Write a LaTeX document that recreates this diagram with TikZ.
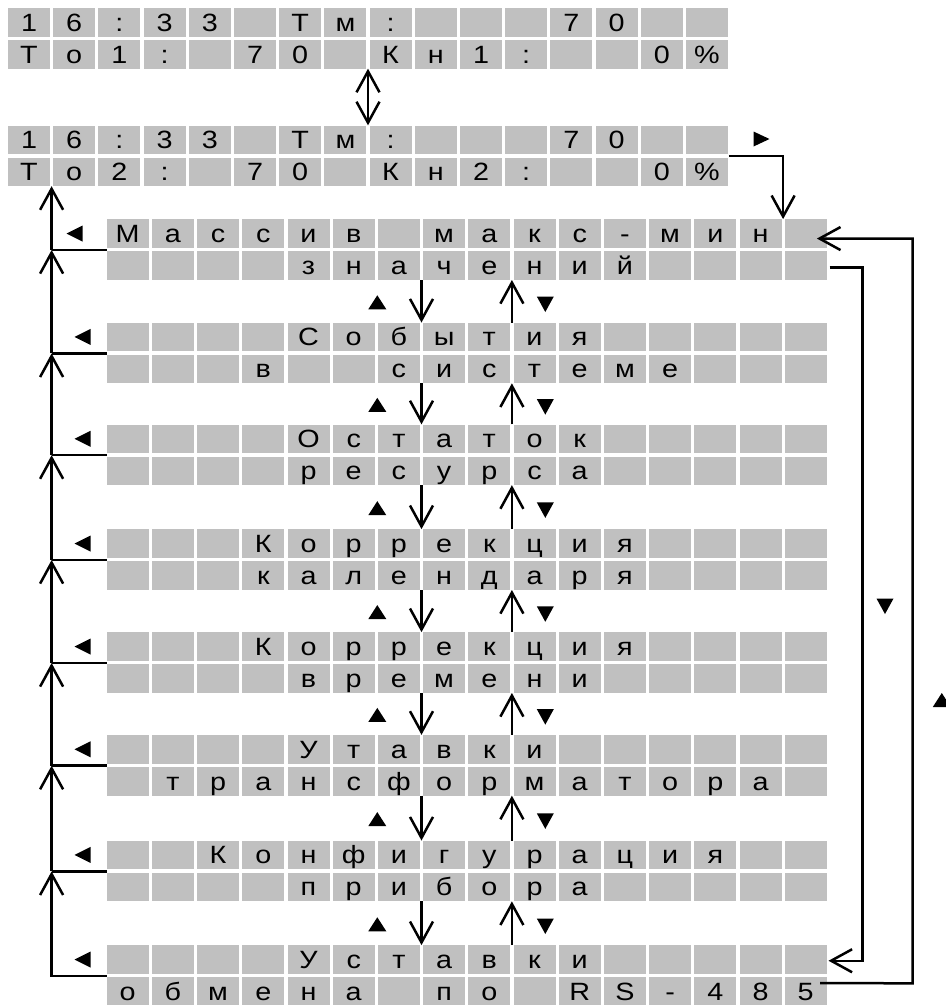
\documentclass[tikz,border=0pt]{standalone}
\usepackage{fontspec}
\setmainfont{Liberation Sans}
\newfontfamily\lcdfont[FakeStretch=1.15]{Liberation Sans}
\usetikzlibrary{arrows.meta,calc}
\definecolor{lcd}{HTML}{C0C0C0}
\tikzset{
  cellbox/.style={fill=lcd,minimum width=42pt,minimum height=28.5pt,inner sep=0pt,
    text height=17.5pt,text depth=0pt,font=\lcdfont\fontsize{25}{25}\selectfont},
  conn/.style={line width=2.5pt},
  tip/.style={-{Straight Barb[length=21pt,width=23pt]}},
  tips/.style={{Straight Barb[length=21pt,width=23pt]}-{Straight Barb[length=21pt,width=23pt]}},
  triup/.pic={\fill (-9,7) -- (9,7) -- (0,-7) -- cycle;},
  tridown/.pic={\fill (-8.5,-7.75) -- (8.5,-7.75) -- (0,7.75) -- cycle;},
  trileft/.pic={\fill (8,-8) -- (8,8) -- (-8,0) -- cycle;},
  triright/.pic={\fill (-8,-7.5) -- (-8,7.5) -- (8,0) -- cycle;},
}
\newcommand\lcdrow[4]{\foreach \ch [count=\i from 0] in {#4}{\node[cellbox] (#1-\i) at ({#2+\i*45.2+21},{#3+14.25}) {\ch};}}
\newcommand\menulink[2]{%
  \coordinate (#1dn) at ($(#1b-6.south east)!.5!(#1b-7.south west)$);
  \coordinate (#1dnE) at (#1dn |- #2a-0.north);
  \coordinate (#1up) at ($(#1b-8.south east)!.5!(#1b-9.south west)$);
  \coordinate (#1upS) at (#1up |- #2a-0.north);
  \draw[conn,tip] (#1dn) -- (#1dnE);
  \draw[conn,tip] (#1upS) -- (#1up);
  \pic at ($(#1dn)!.5!(#1dnE)+(-44.2,1)$) {triup};
  \pic at ($(#1up)!.5!(#1upS)+(33.4,3)$) {tridown};
}
\begin{document}
\begin{tikzpicture}[x=1pt,y=-1pt]
\useasboundingbox (0,0) rectangle (946,1005);
% top displays
\lcdrow{Aa}{8}{8}{1,6,:,3,3,{},Т,м,:,{},{},{},7,0,{},{}}
\lcdrow{Ab}{8}{40}{Т,о,1,:,{},7,0,{},К,н,1,:,{},{},0,\%}
\lcdrow{Ba}{8}{125.5}{1,6,:,3,3,{},Т,м,:,{},{},{},7,0,{},{}}
\lcdrow{Bb}{8}{157.5}{Т,о,2,:,{},7,0,{},К,н,2,:,{},{},0,\%}
% menus
\lcdrow{M1a}{106.7}{219.3}{М,а,с,с,и,в,{},м,а,к,с,-,м,и,н,{}}
\lcdrow{M1b}{106.7}{251.3}{{},{},{},{},з,н,а,ч,е,н,и,й,{},{},{},{}}
\lcdrow{M2a}{106.7}{322.7}{{},{},{},{},С,о,б,ы,т,и,я,{},{},{},{},{}}
\lcdrow{M2b}{106.7}{354.7}{{},{},{},в,{},{},с,и,с,т,е,м,е,{},{},{}}
\lcdrow{M3a}{106.7}{424.5}{{},{},{},{},О,с,т,а,т,о,к,{},{},{},{},{}}
\lcdrow{M3b}{106.7}{456.5}{{},{},{},{},р,е,с,у,р,с,а,{},{},{},{},{}}
\lcdrow{M4a}{106.7}{529.3}{{},{},{},К,о,р,р,е,к,ц,и,я,{},{},{},{}}
\lcdrow{M4b}{106.7}{561.3}{{},{},{},к,а,л,е,н,д,а,р,я,{},{},{},{}}
\lcdrow{M5a}{106.7}{632.3}{{},{},{},К,о,р,р,е,к,ц,и,я,{},{},{},{}}
\lcdrow{M5b}{106.7}{664.3}{{},{},{},{},в,р,е,м,е,н,и,{},{},{},{},{}}
\lcdrow{M6a}{106.7}{735}{{},{},{},{},У,т,а,в,к,и,{},{},{},{},{},{}}
\lcdrow{M6b}{106.7}{767}{{},т,р,а,н,с,ф,о,р,м,а,т,о,р,а,{}}
\lcdrow{M7a}{106.7}{840.7}{{},{},К,о,н,ф,и,г,у,р,а,ц,и,я,{},{}}
\lcdrow{M7b}{106.7}{872.7}{{},{},{},{},п,р,и,б,о,р,а,{},{},{},{},{}}
\lcdrow{M8a}{106.7}{945.3}{{},{},{},{},У,с,т,а,в,к,и,{},{},{},{},{}}
\lcdrow{M8b}{106.7}{977.3}{о,б,м,е,н,а,{},п,о,{},R,S,-,4,8,5}
% top double arrow
\coordinate (T) at ($(Ab-7.south east)!.5!(Ab-8.south west)$);
\coordinate (Tb) at (T |- Ba-0.north);
\draw[conn,tips] (T) -- (Tb);
% top right link
\coordinate (R0) at ($(Ba-15.south east)+(0.7,1.75)$);
\coordinate (R1) at ($(M1a-14.north east)!.5!(M1a-15.north west)$);
\draw[conn,tip] (R0) -| (R1);
\pic at (761.5,139) {triright};
% left return line
\coordinate (L) at ($(Bb-0.south east)!.5!(Bb-1.south west)$);
\foreach \m in {1,...,8}{\coordinate (J\m) at ($(L |- M\m a-0.south)+(0,2)$);}
\foreach \m in {1,...,7}{\draw[conn] (J\m) -- (J\m -| M\m a-0.west);}
\draw[conn,tip] (J8 -| M8a-0.west) -- (J8) -- (J7);
\foreach \a/\b in {7/6,6/5,5/4,4/3,3/2,2/1}{\draw[conn,tip] (J\a) -- (J\b);}
\draw[conn,tip] (J1) -- (L);
% left triangles
\pic at (74.5,233.6) {trileft};
\foreach \m in {2,...,8}{\pic at ($(82.5,0 |- M\m a-0.center)$) {trileft};}
% links between menus
\menulink{M1}{M2}
\menulink{M2}{M3}
\menulink{M3}{M4}
\menulink{M4}{M5}
\menulink{M5}{M6}
\menulink{M6}{M7}
\menulink{M7}{M8}
% right loops
\coordinate (I0) at ($(M1b-15.east)+(2.6,1.75)$);
\coordinate (I1) at (862.7,267.3);
\coordinate (I2) at ($(M8a-15.east)+(1.6,1.2)$);
\draw[conn,tip] (I0) -- (I1) |- (I2);
\coordinate (O0) at ($(M8b-15.north east)+(-6.7,6)$);
\coordinate (O1) at (912.7,983.3);
\coordinate (O2) at ($(M1a-15.east)+(-10,5)$);
\draw[conn,tip] (O0) -- (O1) |- (O2);
\pic at (885,606.3) {tridown};
\pic at (941.8,700) {triup};
\end{tikzpicture}
\end{document}
